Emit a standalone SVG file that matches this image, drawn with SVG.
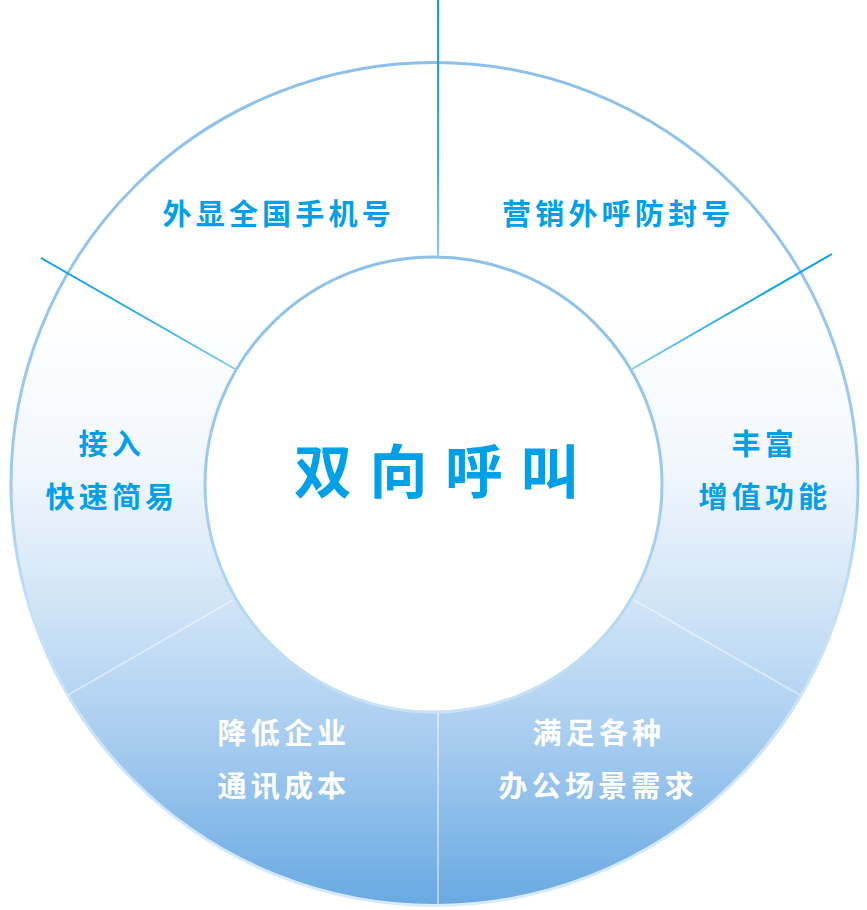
<svg xmlns="http://www.w3.org/2000/svg" width="867" height="910" viewBox="0 0 867 910">
  <defs>
    <linearGradient id="ringFill" gradientUnits="userSpaceOnUse" x1="0" y1="62" x2="0" y2="906">
      <stop offset="0" stop-color="#ffffff"/>
      <stop offset="0.3" stop-color="#ffffff"/>
      <stop offset="0.49" stop-color="#f0f6fd"/>
      <stop offset="0.63" stop-color="#d3e6f7"/>
      <stop offset="0.8" stop-color="#a8cdf0"/>
      <stop offset="1" stop-color="#68a9e2"/>
    </linearGradient>
    <linearGradient id="outerStroke" gradientUnits="userSpaceOnUse" x1="0" y1="62" x2="0" y2="906">
      <stop offset="0" stop-color="#8cc0ea"/>
      <stop offset="0.5" stop-color="#9fcaee"/>
      <stop offset="0.65" stop-color="#c6e0f6"/>
      <stop offset="1" stop-color="#d6eafa"/>
    </linearGradient>
    <linearGradient id="innerStroke" gradientUnits="userSpaceOnUse" x1="0" y1="257" x2="0" y2="712">
      <stop offset="0" stop-color="#8cc0ea"/>
      <stop offset="0.5" stop-color="#9ccaee"/>
      <stop offset="1" stop-color="#c9e2f7"/>
    </linearGradient>
    <linearGradient id="vTop" gradientUnits="userSpaceOnUse" x1="0" y1="0" x2="0" y2="257">
      <stop offset="0" stop-color="#0aa0ea"/>
      <stop offset="0.6" stop-color="#2aa8ec"/>
      <stop offset="1" stop-color="#8ccbf1"/>
    </linearGradient>
    <linearGradient id="dLeft" gradientUnits="userSpaceOnUse" x1="41" y1="258" x2="235" y2="369">
      <stop offset="0" stop-color="#009fe9"/>
      <stop offset="0.5" stop-color="#22a9ec"/>
      <stop offset="1" stop-color="#80cbf2"/>
    </linearGradient>
    <linearGradient id="dRight" gradientUnits="userSpaceOnUse" x1="832" y1="254" x2="632" y2="369">
      <stop offset="0" stop-color="#009fe9"/>
      <stop offset="0.5" stop-color="#22a9ec"/>
      <stop offset="1" stop-color="#80cbf2"/>
    </linearGradient>
    <style>
      .lbl { font-family: "Noto Sans CJK SC", "Noto Sans", sans-serif; font-size: 29px; font-weight: 700; letter-spacing: 4.2px; }
      .blue { fill: #00a0e9; }
      .white { fill: #ffffff; }
      .title { font-family: "Noto Sans CJK SC", "Noto Sans", sans-serif; font-size: 58px; font-weight: 700; letter-spacing: 17.5px; fill: #00a0e9; }
      .soft { stroke: #ffffff; stroke-opacity: 0.45; stroke-width: 2; fill: none; }
    </style>
  </defs>

  <rect x="0" y="0" width="867" height="910" fill="#ffffff"/>

  <g id="ring">
    <ellipse cx="434.5" cy="484" rx="423.5" ry="421.5" fill="url(#ringFill)" stroke="url(#outerStroke)" stroke-width="3"/>
    <ellipse cx="433.5" cy="484.5" rx="228.5" ry="227.5" fill="#ffffff" stroke="url(#innerStroke)" stroke-width="3"/>
  </g>

  <g id="connectors">
    <line x1="438" y1="0" x2="438" y2="257" stroke="url(#vTop)" stroke-width="2"/>
    <line x1="41" y1="258" x2="235" y2="369" stroke="url(#dLeft)" stroke-width="2"/>
    <line x1="832" y1="254" x2="632" y2="369" stroke="url(#dRight)" stroke-width="2"/>
    <line class="soft" x1="68" y1="695" x2="233" y2="600"/>
    <line class="soft" x1="800" y1="695" x2="634" y2="600"/>
    <line class="soft" x1="438" y1="713" x2="438" y2="905"/>
  </g>

  <g id="node-center">
    <text class="title" x="294" y="493">双向呼叫</text>
  </g>

  <g id="node-top-left">
    <text class="lbl blue" x="162.5" y="225">外显全国手机号</text>
  </g>

  <g id="node-top-right">
    <text class="lbl blue" x="502" y="225">营销外呼防封号</text>
  </g>

  <g id="node-left">
    <text class="lbl blue" x="78.5" y="455">接入</text>
    <text class="lbl blue" x="45.5" y="508">快速简易</text>
  </g>

  <g id="node-right">
    <text class="lbl blue" x="731.5" y="455">丰富</text>
    <text class="lbl blue" x="698.5" y="508">增值功能</text>
  </g>

  <g id="node-bottom-left">
    <text class="lbl white" x="217.5" y="744">降低企业</text>
    <text class="lbl white" x="217.5" y="797">通讯成本</text>
  </g>

  <g id="node-bottom-right">
    <text class="lbl white" x="532.5" y="744">满足各种</text>
    <text class="lbl white" x="498.5" y="797">办公场景需求</text>
  </g>
</svg>
